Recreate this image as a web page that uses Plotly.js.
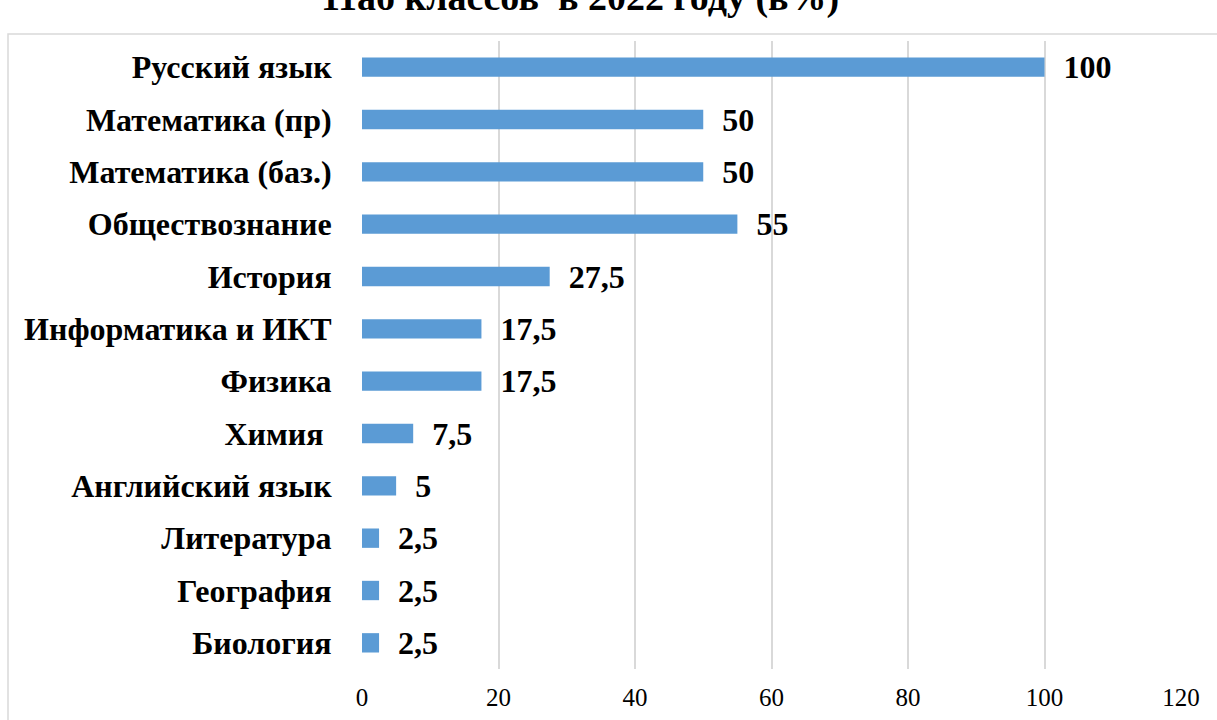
<!DOCTYPE html>
<html>
<head>
<meta charset="utf-8">
<script src="https://cdn.plot.ly/plotly-3.0.1.min.js"></script>
<style>
html,body{margin:0;padding:0;background:#fff;}
#chart{width:1217px;height:720px;}
</style>
</head>
<body>
<div id="chart"></div>
<script>
const categories = ["Русский язык","Математика (пр)","Математика (баз.)","Обществознание","История","Информатика и ИКТ","Физика","Химия\u00a0","Английский язык","Литература","География","Биология"];
const values = [100, 50, 50, 55, 27.5, 17.5, 17.5, 7.5, 5, 2.5, 2.5, 2.5];
const xTicks = [0, 20, 40, 60, 80, 100, 120];
const titleText = "11аб классов  в 2022 году (в%)";

const labels = values.map(v => "\u00a0\u00a0" + String(v).replace(".", ","));

const serif = "Liberation Serif";

const trace = {
  type: "bar",
  orientation: "h",
  y: categories,
  x: values,
  width: 0.37,
  marker: {color: "#5b9bd5"},
  text: labels,
  textposition: "outside",
  constraintext: "none",
  cliponaxis: false,
  textfont: {family: serif, size: 32, color: "#000", weight: "bold"},
  hoverinfo: "skip"
};

const layout = {
  width: 1217, height: 720,
  font: {family: serif},
  margin: {l: 362, r: 36, t: 41, b: 51, pad: 0},
  paper_bgcolor: "#fff", plot_bgcolor: "#fff",
  showlegend: false,
  annotations: [{
    text: "<b>" + titleText + "</b>",
    font: {family: serif, size: 38, color: "#000"},
    xref: "paper", yref: "paper",
    x: (580 - 362) / 819, xanchor: "center",
    y: (669 + 2.6) / 628, yanchor: "middle",
    showarrow: false
  }],
  xaxis: {
    range: [0, 120],
    tickvals: xTicks,
    ticktext: xTicks.map(String),
    showgrid: true, gridcolor: "#d9d9d9", gridwidth: 2,
    zeroline: false, showline: false,
    ticks: "outside", ticklen: 6, tickcolor: "rgba(0,0,0,0)",
    tickfont: {family: serif, size: 25, color: "#000"},
    fixedrange: true
  },
  yaxis: {
    type: "category",
    autorange: "reversed",
    showgrid: false, zeroline: false, showline: false,
    ticks: "outside", ticklen: 23, tickcolor: "rgba(0,0,0,0)",
    tickfont: {family: serif, size: 32, color: "#000", weight: "bold"},
    fixedrange: true
  },
  shapes: [{
    type: "rect", xref: "paper", yref: "paper",
    x0: (8 - 362) / 819, x1: (1240 - 362) / 819,
    y0: (669 - 760) / 628, y1: (669 - 34) / 628,
    line: {color: "#d9d9d9", width: 1.5},
    fillcolor: "rgba(0,0,0,0)", layer: "below"
  }]
};

Plotly.newPlot("chart", [trace], layout, {displayModeBar: false, staticPlot: true});
</script>
</body>
</html>
